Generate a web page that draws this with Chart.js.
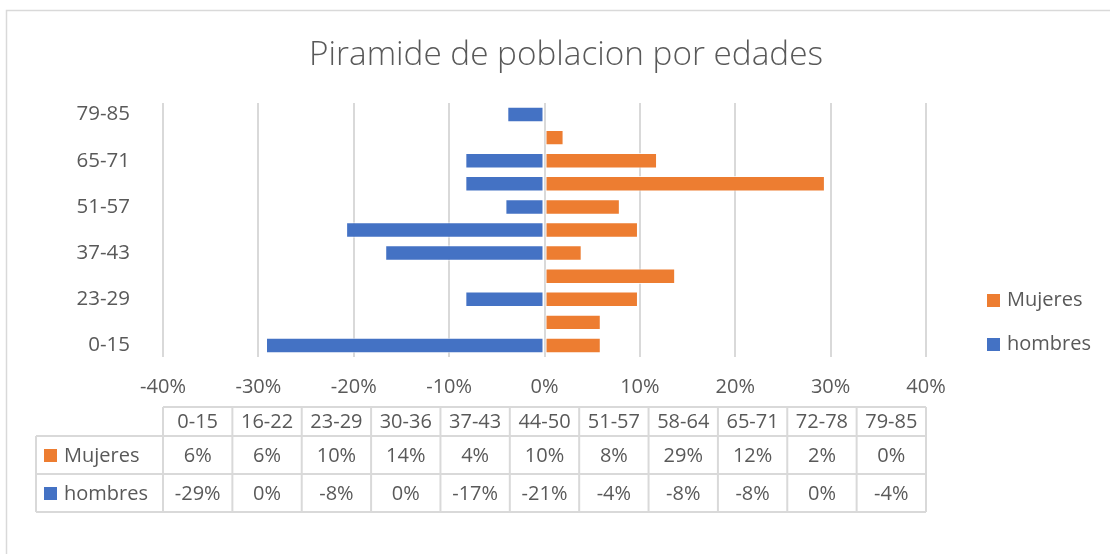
<!DOCTYPE html>
<html>
<head>
<meta charset="utf-8">
<script src="https://cdn.jsdelivr.net/npm/chart.js@4/dist/chart.umd.min.js"></script>
<style>
  body { margin: 0; background: #fff; }
  #wrap { position: relative; width: 1110px; height: 554px; }
</style>
</head>
<body>
<div id="wrap"><canvas id="chart"></canvas></div>
<script>
const title = 'Piramide de poblacion por edades';
const categories = ['0-15', '16-22', '23-29', '30-36', '37-43', '44-50', '51-57', '58-64', '65-71', '72-78', '79-85'];
const mujeres = [5.9, 5.9, 9.8, 13.7, 3.9, 9.8, 7.9, 29.4, 11.8, 2.0, 0];
const hombres = [-29.2, 0, -8.3, 0, -16.7, -20.8, -4.1, -8.3, -8.3, 0, -3.9];
const xTicks = [-40, -30, -20, -10, 0, 10, 20, 30, 40];

const ORANGE = '#ED7D31';
const BLUE = '#4472C4';
const TEXT = '#595959';
const GRID = '#d9d9d9';
const FONT = '"Open Sans", sans-serif';

const series = [
  { label: 'Mujeres', data: mujeres, color: ORANGE },
  { label: 'hombres', data: hombres, color: BLUE },
];

const pct = (v) => `${Math.round(v)}%`;

// frame, title, legend on the right and the data table under the axis
const extras = {
  id: 'extras',
  beforeDraw(chart) {
    const { ctx } = chart;
    ctx.save();
    ctx.strokeStyle = GRID;
    ctx.lineWidth = 1.5;
    ctx.beginPath();
    ctx.moveTo(1110, 10.5);
    ctx.lineTo(6.5, 10.5);
    ctx.lineTo(6.5, 554);
    ctx.stroke();
    ctx.restore();
  },
  afterDraw(chart) {
    const { ctx, chartArea } = chart;
    const { left, right } = chartArea;
    ctx.save();
    ctx.textBaseline = 'middle';

    // title, centred on the whole picture
    ctx.fillStyle = TEXT;
    ctx.textAlign = 'center';
    ctx.font = `300 33.3px ${FONT}`;
    ctx.fillText(title, 566, 56);

    ctx.font = `20px ${FONT}`;

    // legend
    series.forEach((s, i) => {
      const y = 300 + i * 44;
      ctx.fillStyle = s.color;
      ctx.fillRect(987, y - 6, 13, 13);
      ctx.fillStyle = TEXT;
      ctx.textAlign = 'left';
      ctx.fillText(s.label, 1007, y);
    });

    // table
    const colW = (right - left) / categories.length;
    const tableLeft = 36;
    const rows = [407, 436, 474, 512];
    ctx.strokeStyle = GRID;
    ctx.lineWidth = 2;
    ctx.beginPath();
    ctx.moveTo(left, rows[0]); ctx.lineTo(right, rows[0]);
    for (let r = 1; r < rows.length; r++) {
      ctx.moveTo(tableLeft, rows[r]); ctx.lineTo(right, rows[r]);
    }
    for (let c = 0; c <= categories.length; c++) {
      const x = left + c * colW;
      ctx.moveTo(x, rows[0]); ctx.lineTo(x, rows[3]);
    }
    ctx.moveTo(tableLeft, rows[1]); ctx.lineTo(tableLeft, rows[3]);
    ctx.stroke();

    ctx.fillStyle = TEXT;
    ctx.textAlign = 'center';
    categories.forEach((c, i) => {
      const x = left + (i + 0.5) * colW;
      ctx.fillText(c, x, (rows[0] + rows[1]) / 2 + 1);
      ctx.fillText(pct(mujeres[i]), x, (rows[1] + rows[2]) / 2 + 1);
      ctx.fillText(pct(hombres[i]), x, (rows[2] + rows[3]) / 2 + 1);
    });
    series.forEach((s, i) => {
      const y = (rows[i + 1] + rows[i + 2]) / 2 + 1;
      ctx.fillStyle = s.color;
      ctx.fillRect(44, y - 7, 13, 13);
      ctx.fillStyle = TEXT;
      ctx.textAlign = 'left';
      ctx.fillText(s.label, 64, y);
    });
    ctx.restore();
  },
};

new Chart(document.getElementById('chart'), {
  type: 'bar',
  data: {
    labels: categories,
    datasets: series.map((s) => ({
      label: s.label,
      data: s.data,
      backgroundColor: s.color,
      borderColor: 'rgba(255,255,255,0.7)',
      borderWidth: 1,
      borderSkipped: false,
      categoryPercentage: 1,
      barPercentage: 0.67,
    })),
  },
  options: {
    indexAxis: 'y',
    responsive: true,
    maintainAspectRatio: false,
    animation: false,
    layout: { padding: { left: 20, right: 184, top: 103, bottom: 147 } },
    plugins: {
      legend: { display: false },
      tooltip: { enabled: false },
      title: { display: false },
    },
    scales: {
      x: {
        stacked: true,
        min: -40,
        max: 40,
        afterBuildTicks: (scale) => { scale.ticks = xTicks.map((v) => ({ value: v })); },
        afterFit: (scale) => { scale.height = 50; },
        grid: { color: GRID, lineWidth: 2, drawTicks: false },
        border: { display: false },
        ticks: {
          color: TEXT,
          font: { family: FONT, size: 20 },
          padding: 18,
          callback: (v) => `${v}%`,
        },
      },
      y: {
        stacked: true,
        reverse: true,
        afterFit: (scale) => { scale.width = 143; },
        grid: { display: false },
        border: { display: false },
        ticks: {
          color: TEXT,
          font: { family: FONT, size: 20.5 },
          padding: 25,
          autoSkip: false,
          callback: (v, i) => (i % 2 === 0 ? categories[i] : ''),
        },
      },
    },
  },
  plugins: [extras],
});
</script>
</body>
</html>
